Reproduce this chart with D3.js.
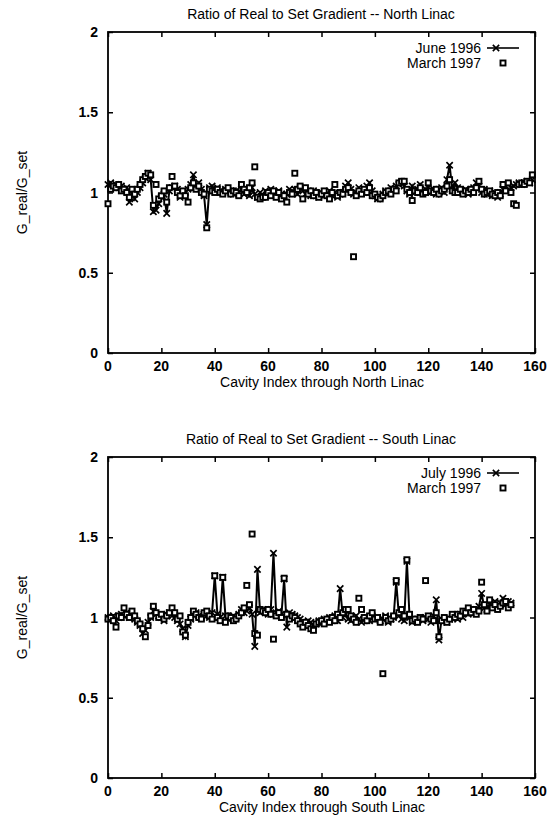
<!DOCTYPE html>
<html>
<head>
<meta charset="utf-8">
<script src="https://cdnjs.cloudflare.com/ajax/libs/d3/7.8.5/d3.min.js"></script>
<style>
  body { margin: 0; background: #fff; }
  text { font-family: "Liberation Sans", Arial, Helvetica, sans-serif; fill: #000; }
</style>
</head>
<body>
<div id="chart"></div>
<script>
// North linac, June 1996 (line + x markers), cavity index 0..159
const northJune = [
  1.05, 1.06, 1.04, 1.05, 1.03, 1.04, 1.02, 1.03, 0.94, 1.01,
  0.96, 1.00, 1.03, 1.06, 1.09, 1.12, 1.08, 0.88, 0.89, 0.93,
  0.97, 0.99, 0.87, 1.01, 1.03, 1.04, 1.02, 0.97, 0.99, 1.00,
  1.02, 1.05, 1.11, 1.03, 1.06, 1.02, 0.98, 0.80, 1.03, 1.04,
  1.02, 1.03, 1.01, 1.00, 1.02, 1.01, 1.00, 0.99, 1.01, 1.00,
  1.02, 0.99, 1.01, 0.98, 1.03, 0.99, 0.97, 1.00, 0.98, 1.01,
  0.99, 1.02, 1.00, 0.98, 1.01, 0.99, 0.97, 0.99, 1.02, 1.00,
  1.02, 0.99, 1.03, 1.01, 0.99, 1.00, 0.98, 1.01, 0.99, 0.97,
  1.00, 0.98, 0.99, 1.01, 0.98, 1.00, 0.97, 0.99, 1.00, 1.04,
  1.06, 1.02, 0.99, 1.00, 1.03, 1.01, 1.00, 1.04, 1.06, 1.01,
  0.98, 0.96, 0.97, 0.99, 1.01, 1.00, 1.03, 1.02, 1.04, 1.05,
  1.06, 1.04, 1.01, 0.99, 1.04, 1.00, 1.02, 1.05, 1.01, 1.02,
  1.03, 1.00, 1.02, 0.99, 1.01, 1.03, 1.00, 1.08, 1.17, 1.02,
  1.06, 1.03, 1.01, 1.00, 1.02, 0.99, 1.01, 1.03, 1.06, 1.04,
  1.00, 1.02, 0.99, 1.01, 0.98, 1.00, 0.97, 0.99, 1.02, 1.04,
  1.05, 1.03, 1.04, 1.05, 1.06, 1.05, 1.06, 1.07, 1.06, 1.08
];
// North linac, March 1997 (squares)
const northMarch = [
  0.93, 1.02, 1.04, 1.03, 1.05, 1.01, 1.02, 1.00, 0.97, 1.02,
  0.99, 1.02, 1.05, 1.08, 1.10, 1.12, 1.11, 0.92, 1.05, 0.96,
  0.98, 1.01, 0.94, 1.03, 1.10, 1.04, 1.00, 0.98, 1.01, 0.98,
  0.94, 1.03, 1.06, 1.02, 1.04, 1.00, 0.99, 0.78, 1.02, 1.01,
  1.00, 1.02, 1.00, 0.99, 1.01, 1.03, 0.99, 1.01, 1.00, 0.98,
  1.05, 1.02, 1.00, 1.03, 1.06, 1.16, 0.97, 0.96, 0.97, 0.97,
  1.00, 0.98, 1.01, 0.97, 1.00, 0.96, 0.98, 0.94, 1.00, 0.99,
  1.12, 1.02, 1.04, 0.96, 1.03, 0.99, 1.01, 0.98, 1.00, 0.97,
  0.99, 1.01, 0.98, 0.96, 1.00, 1.05, 0.98, 1.00, 0.99, 1.02,
  1.03, 1.00, 0.60, 0.98, 1.01, 0.99, 1.02, 1.00, 1.03, 0.98,
  0.99, 0.97, 0.96, 0.98, 1.00, 1.01, 0.99, 1.02, 1.01, 1.06,
  1.07, 1.07, 1.02, 1.00, 0.95, 1.01, 1.00, 1.03, 0.99, 1.00,
  1.06, 1.01, 1.00, 1.02, 0.99, 1.01, 1.02, 1.04, 1.08, 1.01,
  1.00, 1.00, 1.02, 0.99, 1.01, 1.00, 1.02, 1.00, 1.03, 1.07,
  1.02, 0.99, 1.00, 1.01, 0.99, 0.98, 1.00, 0.98, 1.05, 1.01,
  1.06, 1.00, 0.93, 0.92, 1.05, 1.06, 1.05, 1.07, 1.06, 1.11
];
// South linac, July 1996 (line + x markers), cavity index 0..151
const southJuly = [
  1.00, 0.99, 1.01, 0.98, 1.00, 1.02, 1.01, 1.03, 1.00, 1.01,
  0.99, 0.97, 0.95, 0.90, 0.92, 0.97, 1.00, 1.04, 1.02, 1.01,
  1.00, 0.98, 1.02, 1.03, 1.01, 1.00, 0.98, 0.96, 0.93, 0.88,
  0.95, 0.99, 1.02, 1.03, 1.01, 1.00, 1.02, 1.01, 1.00, 1.03,
  1.26, 1.02, 1.00, 1.25, 1.01, 0.99, 1.00, 1.01, 1.00, 1.02,
  1.05, 1.03, 1.04, 1.06, 1.02, 0.82, 1.30, 1.03, 1.05, 1.04,
  1.02, 1.05, 1.40, 1.03, 1.04, 1.02, 1.24, 0.94, 1.03, 1.02,
  1.01, 1.00, 0.99, 0.97, 0.96, 0.98, 0.97, 0.95, 0.96, 0.98,
  0.97, 0.99, 0.98, 1.00, 0.99, 1.01, 0.98, 1.18, 1.00, 1.02,
  0.99, 0.98, 1.00, 1.01, 0.99, 0.97, 0.99, 1.00, 0.98, 1.01,
  0.99, 1.00, 0.98, 0.99, 1.01, 0.97, 0.99, 1.00, 1.22, 1.01,
  0.99, 0.98, 1.35, 1.00, 0.97, 0.98, 0.99, 1.00, 0.98, 1.00,
  0.99, 0.97, 1.01, 1.11, 0.86, 0.99, 0.98, 0.97, 0.99, 1.00,
  1.01, 0.99, 1.02, 1.00, 1.03, 1.02, 1.04, 1.03, 1.05, 1.07,
  1.15, 1.06, 1.05, 1.08, 1.07, 1.10, 1.06, 1.09, 1.12, 1.08,
  1.10, 1.09
];
// South linac, March 1997 (squares)
const southMarch = [
  0.99, 1.00, 0.98, 0.94, 1.01, 1.00, 1.06, 1.02, 1.00, 1.04,
  1.01, 0.98, 0.96, 0.93, 0.88, 0.95, 1.01, 1.07, 1.03, 1.00,
  1.02, 0.99, 1.01, 1.03, 1.06, 1.03, 0.99, 1.01, 0.91, 0.89,
  0.97, 1.00, 1.04, 1.02, 1.00, 0.99, 1.03, 1.04, 1.01, 0.99,
  1.26, 1.00, 0.98, 1.25, 0.97, 1.01, 1.00, 0.98, 0.99, 1.01,
  1.03, 1.06, 1.20, 1.08, 1.52, 0.90, 0.89, 1.05, 1.04, 1.03,
  1.05, 1.02, 0.865, 1.01, 1.03, 1.00, 1.245, 1.02, 0.99, 1.01,
  1.00, 0.98, 0.96, 0.94, 0.97, 0.95, 0.93, 0.92, 0.96, 0.97,
  0.98, 0.96, 0.99, 0.97, 1.00, 0.98, 1.02, 1.00, 1.03, 1.05,
  1.05, 1.01, 0.99, 0.97, 1.12, 1.05, 1.00, 0.98, 1.01, 1.03,
  0.99, 1.00, 0.97, 0.65, 1.00, 0.98, 0.99, 1.01, 1.23, 1.03,
  1.05, 1.01, 1.36, 1.02, 0.98, 0.99, 0.97, 1.00, 0.99, 1.23,
  1.01, 0.99, 0.98, 1.03, 0.88, 0.98, 1.00, 0.97, 0.99, 1.02,
  1.00, 1.02, 1.01, 1.04, 1.03, 1.06, 1.03, 1.05, 1.02, 1.04,
  1.22, 1.08, 1.04, 1.11, 1.06, 1.08, 1.05, 1.07, 1.09, 1.10,
  1.06, 1.08
];

const xTicks = [0, 20, 40, 60, 80, 100, 120, 140, 160];
const yTicks = [0, 0.5, 1, 1.5, 2];
const yTickLabels = ["0", "0.5", "1", "1.5", "2"];

const width = 554, height = 825;

const svg = d3.select("#chart")
    .append("svg")
    .attr("width", width)
    .attr("height", height);

function drawPanel(cfg) {
    const left = 108, right = 535;
    const top = cfg.top, bottom = cfg.top + 321;

    const xScale = d3.scaleLinear().domain([0, 160]).range([left, right]);
    const yScale = d3.scaleLinear().domain([0, 2]).range([bottom, top]);

    const g = svg.append("g");

    // 刻度（四边向内）
    g.append("g")
        .attr("transform", `translate(0,${bottom})`)
        .call(d3.axisBottom(xScale).tickValues(xTicks).tickSize(-5).tickFormat(""))
        .call(a => a.select(".domain").remove());
    g.append("g")
        .attr("transform", `translate(0,${top})`)
        .call(d3.axisTop(xScale).tickValues(xTicks).tickSize(-5).tickFormat(""))
        .call(a => a.select(".domain").remove());
    g.append("g")
        .attr("transform", `translate(${left},0)`)
        .call(d3.axisLeft(yScale).tickValues(yTicks).tickSize(-5).tickFormat(""))
        .call(a => a.select(".domain").remove());
    g.append("g")
        .attr("transform", `translate(${right},0)`)
        .call(d3.axisRight(yScale).tickValues(yTicks).tickSize(-5).tickFormat(""))
        .call(a => a.select(".domain").remove());
    g.selectAll(".tick line").attr("stroke", "#000").attr("stroke-width", 1.5);

    // 边框
    g.append("rect")
        .attr("x", left).attr("y", top)
        .attr("width", right - left).attr("height", bottom - top)
        .attr("fill", "none").attr("stroke", "#000").attr("stroke-width", 1.8);

    // 刻度标签
    g.selectAll(".xlab")
        .data(xTicks)
        .enter().append("text")
        .attr("x", d => xScale(d))
        .attr("y", bottom + 18)
        .attr("text-anchor", "middle")
        .style("font-size", "14px")
        .style("font-weight", "bold")
        .text(d => d);
    g.selectAll(".ylab")
        .data(yTicks)
        .enter().append("text")
        .attr("x", left - 10)
        .attr("y", d => yScale(d) + 5)
        .attr("text-anchor", "end")
        .style("font-size", "14px")
        .style("font-weight", "bold")
        .text((d, i) => yTickLabels[i]);

    // 标题和轴标签
    g.append("text")
        .attr("x", 321).attr("y", top - 13)
        .attr("text-anchor", "middle")
        .style("font-size", "14px")
        .text(cfg.title);
    g.append("text")
        .attr("x", 322).attr("y", bottom + 34)
        .attr("text-anchor", "middle")
        .style("font-size", "14px")
        .text(cfg.xLabel);
    g.append("text")
        .attr("transform", "rotate(-90)")
        .attr("x", -(top + bottom) / 2)
        .attr("y", 27)
        .attr("text-anchor", "middle")
        .style("font-size", "14px")
        .text("G_real/G_set");

    // 折线 + x 标记
    const lineData = cfg.lineSeries.map((v, i) => ({ x: i, y: v }));
    const line = d3.line().x(d => xScale(d.x)).y(d => yScale(d.y));
    g.append("path")
        .datum(lineData)
        .attr("fill", "none")
        .attr("stroke", "#000")
        .attr("stroke-width", 2)
        .attr("d", line);

    const cross = d3.symbol().type(d3.symbolX).size(28);
    g.selectAll(".xmark")
        .data(lineData)
        .enter().append("path")
        .attr("transform", d => `translate(${xScale(d.x)},${yScale(d.y)})`)
        .attr("d", cross)
        .attr("fill", "none")
        .attr("stroke", "#000")
        .attr("stroke-width", 1.7);

    // 方块标记
    const sqData = cfg.squareSeries.map((v, i) => ({ x: i, y: v }));
    g.selectAll(".sq")
        .data(sqData)
        .enter().append("rect")
        .attr("x", d => xScale(d.x) - 2.5)
        .attr("y", d => yScale(d.y) - 2.5)
        .attr("width", 5).attr("height", 5)
        .attr("fill", "#fff")
        .attr("stroke", "#000")
        .attr("stroke-width", 1.9);

    // 图例
    const ly1 = top + 21, ly2 = top + 36;
    g.append("text")
        .attr("x", 481).attr("y", ly1)
        .attr("text-anchor", "end")
        .style("font-size", "14px")
        .text(cfg.lineName);
    g.append("line")
        .attr("x1", 487).attr("x2", 519)
        .attr("y1", ly1 - 5).attr("y2", ly1 - 5)
        .attr("stroke", "#000").attr("stroke-width", 1.6);
    g.append("path")
        .attr("transform", `translate(496,${ly1 - 5})`)
        .attr("d", cross)
        .attr("fill", "none").attr("stroke", "#000").attr("stroke-width", 1.6);
    g.append("text")
        .attr("x", 481).attr("y", ly2)
        .attr("text-anchor", "end")
        .style("font-size", "14px")
        .text(cfg.squareName);
    g.append("rect")
        .attr("x", 503 - 2.5).attr("y", ly2 - 5 - 2.5)
        .attr("width", 5).attr("height", 5)
        .attr("fill", "#fff").attr("stroke", "#000").attr("stroke-width", 1.9);
}

drawPanel({
    top: 32,
    title: "Ratio of Real to Set Gradient -- North Linac",
    xLabel: "Cavity Index through North Linac",
    lineSeries: northJune,
    squareSeries: northMarch,
    lineName: "June 1996",
    squareName: "March 1997"
});

drawPanel({
    top: 457,
    title: "Ratio of Real to Set Gradient -- South Linac",
    xLabel: "Cavity Index through South Linac",
    lineSeries: southJuly,
    squareSeries: southMarch,
    lineName: "July 1996",
    squareName: "March 1997"
});
</script>
</body>
</html>
